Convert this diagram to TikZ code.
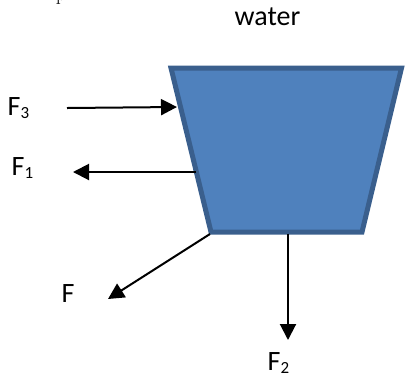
\documentclass[tikz,border=0pt]{standalone}
\usepackage{fontspec}
\setmainfont{Carlito}
\newfontfamily\serifp{Latin Modern Roman}
\usetikzlibrary{arrows.meta}
\definecolor{boxfill}{HTML}{4F81BD}
\definecolor{boxline}{HTML}{3A5F8D}
\tikzset{
  force/.style={line width=2pt,-{Triangle[length=16pt,width=16pt]}},
  lbl/.style={font=\fontsize{28}{32}\selectfont,inner sep=0pt,anchor=base west},
}
\newcommand{\subidx}[1]{\raisebox{-3.5pt}{\fontsize{17}{20}\selectfont #1}}
\begin{document}
\begin{tikzpicture}[x=1pt,y=-1pt]
\useasboundingbox (0,0) rectangle (406,376);
% trapezoid vertices
\coordinate (tl) at (171,68);
\coordinate (tr) at (401.5,68);
\coordinate (br) at (362,232);
\coordinate (bl) at (211,232);
\draw[fill=boxfill,draw=boxline,line width=5pt,line join=miter] (tl) -- (tr) -- (br) -- (bl) -- cycle;
% arrow anchor points
\coordinate (f3s) at (67,108);
\coordinate (f3e) at (177,107);
\coordinate (f1s) at (196,172);
\coordinate (f1e) at (73,172);
\coordinate (fs) at (210,234);
\coordinate (fe) at (108,299);
\coordinate (f2s) at (288,234);
\coordinate (f2e) at (288,340);
\draw[force] (f3s) -- (f3e);
\draw[force] (f1s) -- (f1e);
\draw[force] (fs) -- (fe);
\draw[force] (f2s) -- (f2e);
% labels
\node[lbl,anchor=base] (water) at (267.5,25) {water};
\node[lbl] (lf3) at (7.5,115) {F\subidx{3}};
\node[lbl] (lf1) at (11.5,175) {F\subidx{1}};
\node[lbl] (lf) at (61.5,302) {F};
\node[lbl] (lf2) at (267.5,370) {F\subidx{2}};
\node[anchor=base,inner sep=0pt,font=\serifp\fontsize{20}{24}\selectfont] (frag) at (61,0) {p};
\end{tikzpicture}
\end{document}
